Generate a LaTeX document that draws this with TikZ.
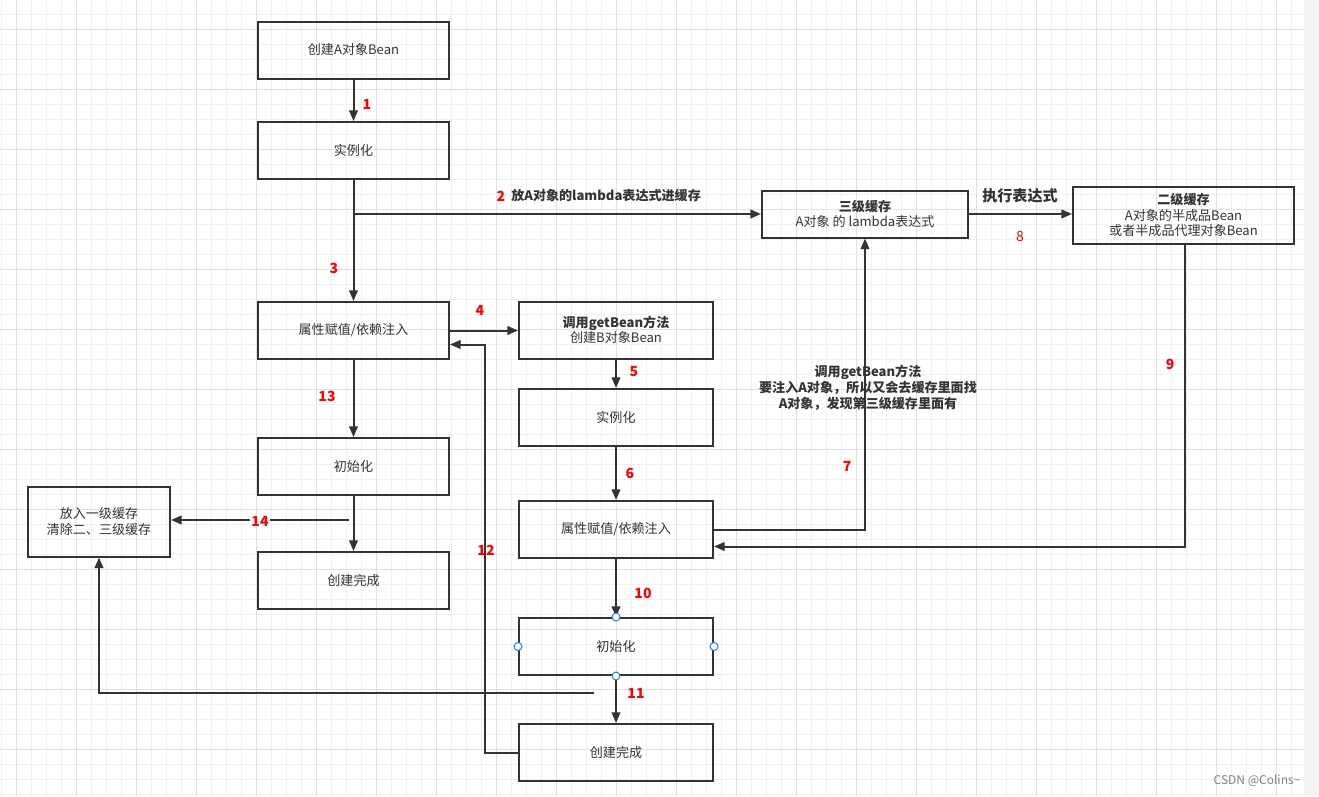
\documentclass[tikz,border=0pt]{standalone}
\usepackage{fontspec}
\setmainfont{Noto Sans CJK SC}
\usetikzlibrary{arrows.meta,calc}
\definecolor{linegray}{HTML}{333333}
\definecolor{gridminor}{HTML}{F0F0F0}
\definecolor{gridmajor}{HTML}{E0E0E0}
\definecolor{panelgray}{HTML}{F2F2F2}
\definecolor{handleblue}{HTML}{1A7FE8}
\begin{document}
\begin{tikzpicture}[x=0.75pt,y=-0.75pt,
   font=\fontsize{9.8}{11.6}\selectfont,
   box/.style={draw=linegray,line width=1.5pt,text=linegray,align=center,
      minimum width=143.25pt,minimum height=42.75pt,inner sep=1pt},
   wbox/.style={box,minimum width=145.5pt},
   arr/.style={draw=linegray,line width=1.5pt,-{Triangle[length=8pt,width=6.5pt]}},
   num/.style={text=red,font=\fontsize{10.5}{12}\selectfont\bfseries,inner sep=1pt},
   lbl/.style={text=linegray,font=\fontsize{9.8}{11.8}\selectfont\bfseries,align=center,inner sep=1pt},
   handle/.style={draw=handleblue,fill=white,line width=0.75pt}]
   \useasboundingbox (0,0) rectangle (1319,796);
   % background grid
   \foreach \x in {1,16,...,1301} \draw[gridminor,line width=0.75pt] (\x,0) -- (\x,796);
   \foreach \y in {14,29,...,794} \draw[gridminor,line width=0.75pt] (0,\y) -- (1304,\y);
   \foreach \x in {16,76,...,1276} \draw[gridmajor,line width=0.75pt] (\x,0) -- (\x,796);
   \foreach \y in {29,89,...,749} \draw[gridmajor,line width=0.75pt] (0,\y) -- (1304,\y);
   \fill[panelgray] (1304,0) rectangle (1319,796);
   % bean A
   \node[box] (a1) at (353.5,50) {创建A对象Bean};
   \node[box] (a2) at (353.5,150.5) {实例化};
   \node[box] (a3) at (353.5,330.5) {属性赋值/依赖注入};
   \node[box] (a4) at (353.5,466.5) {初始化};
   \node[box] (a5) at (353.5,580.5) {创建完成};
   \node[box,minimum width=106.5pt,minimum height=52.5pt] (cache1) at (99,521.5) {放入一级缓存\\清除二、三级缓存};
   % bean B
   \node[wbox] (b1) at (616,330) {\textbf{调用getBean方法}\\创建B对象Bean};
   \node[wbox] (b2) at (616,417.5) {实例化};
   \node[wbox] (b3) at (616,529.5) {属性赋值/依赖注入};
   \node[wbox] (b4) at (616,646.5) {初始化};
   \node[wbox] (b5) at (616,752.5) {创建完成};
   % caches
   \node[box,minimum width=154.5pt,minimum height=35.25pt] (cache3) at (865,214) {\textbf{三级缓存}\\A对象 的 lambda表达式};
   \node[box,minimum width=165.75pt] (cache2) at (1183.5,215) {\textbf{二级缓存}\\A对象的半成品Bean\\或者半成品代理对象Bean};
   % connectors
   \coordinate (fork) at (a2.south |- cache3.west);
   \coordinate (back) at (594,693);
   \coordinate (done) at (349,520);
   \draw[arr] (a1) -- (a2);
   \draw[arr] (fork) -- (cache3.west);
   \draw[arr] (a2) -- (a3);
   \draw[arr] (a3.east) -- (a3.east -| b1.west);
   \draw[arr] (b5.west) -- ++(-33,0) |- ($(a3.east)+(0,14)$);
   \draw[arr] (b1) -- (b2);
   \draw[arr] (b2) -- (b3);
   \draw[arr] (b3.east) -| (cache3.south);
   \draw[arr] (cache3.east) -- (cache3.east -| cache2.west);
   \draw[arr] ([xshift=1.1pt]cache2.south) |- ($(b3.east)+(0,17)$);
   \draw[arr] (b3) -- (b4);
   \draw[arr] (b4) -- (b5);
   \draw[arr] (back) -| (cache1.south);
   \draw[arr] (a3) -- (a4);
   \draw[arr] (done) -- (done -| cache1.east);
   \draw[arr] (a4) -- (a5);
   % step numbers
   \node[num] (n1) at (367,104) {1};
   \node[num,anchor=west] (n2) at (495,196) {2};
   \node[lbl,anchor=west] (t2) at (n2.east) {\ 放A对象的lambda表达式进缓存};
   \node[num] (n3) at (334,268) {3};
   \node[num] (n4) at (480,310) {4};
   \node[num] (n5) at (634,372) {5};
   \node[num] (n6) at (630,473) {6};
   \node[num] (n7) at (847,466) {7};
   \node[lbl] (t7) at (868,388) {调用getBean方法\\要注入A对象，所以又会去缓存里面找\\A对象，发现第三级缓存里面有};
   \node[lbl,font=\fontsize{11.3}{13}\selectfont\bfseries] (t8) at (1020,196) {执行表达式};
   \node[num,font=\fontsize{10.5}{12}\selectfont] (n8) at (1020,237) {8};
   \node[num] (n9) at (1170,364) {9};
   \node[num] (n10) at (643,593) {10};
   \node[num] (n11) at (636,693) {11};
   \node[num] (n12) at (486,550) {12};
   \node[num] (n13) at (327,396) {13};
   \node[num,fill=white] (n14) at (260,521) {14};
   % selection handles
   \foreach \p in {north,south,east,west} \draw[handle] (b4.\p) circle (3pt);
   \node[text=gray,font=\fontsize{9}{11}\selectfont] (mark) at (1257,781) {CSDN @Colins\textasciitilde};
  \end{tikzpicture}
\end{document}
